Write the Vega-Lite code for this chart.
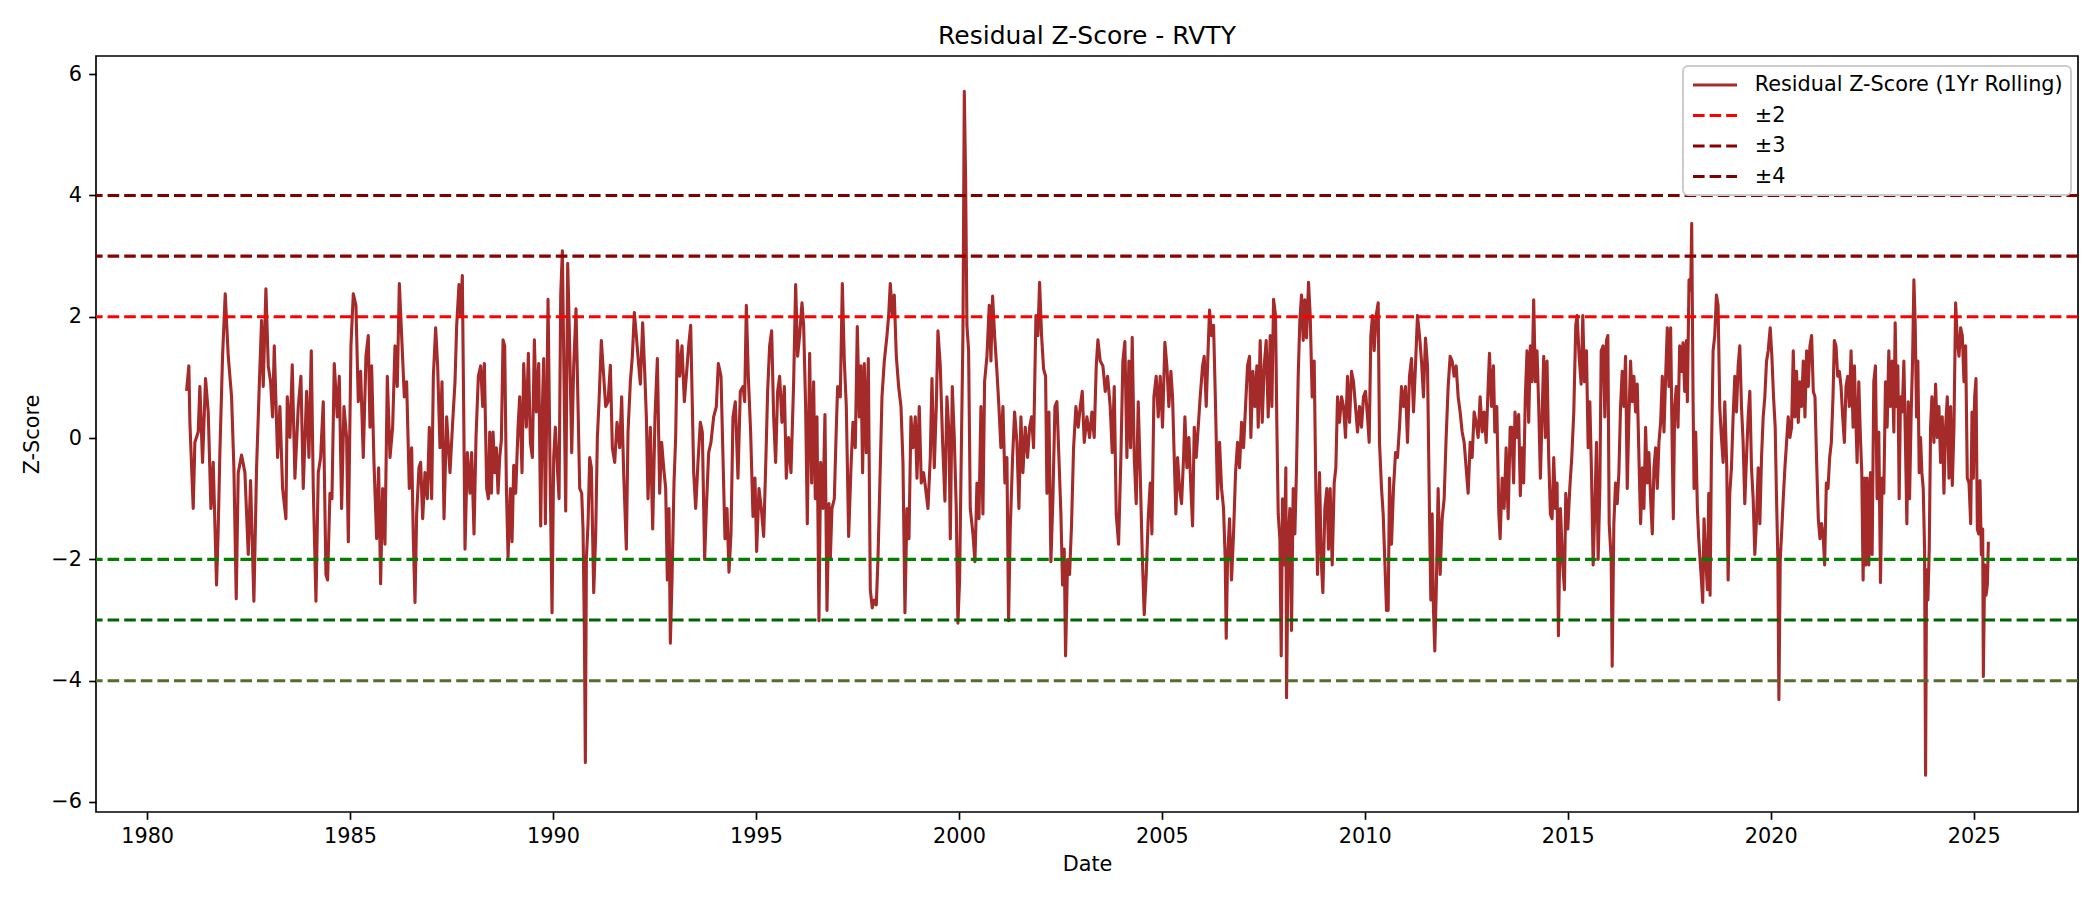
{
  "$schema": "https://vega.github.io/schema/vega-lite/v6.json",
  "description": "Residual Z-Score (1Yr Rolling) for RVTY with +/-2, 3, 4 threshold lines",
  "width": 1982,
  "height": 756,
  "autosize": {"type": "none"},
  "padding": {"left": 96, "top": 56, "right": 22, "bottom": 88},
  "background": "white",
  "title": {
    "text": "Residual Z-Score - RVTY",
    "font": "DejaVu Sans",
    "fontSize": 25,
    "fontWeight": "normal",
    "color": "black",
    "anchor": "middle",
    "frame": "group",
    "baseline": "bottom",
    "offset": -18
  },
  "datasets": {
    "zscore": [
      {"year": 1980.971, "zscore": 0.78}, {"year": 1981.028, "zscore": 1.19}, {"year": 1981.053, "zscore": 0.26}, {"year": 1981.135, "zscore": -1.16},
      {"year": 1981.176, "zscore": -0.07}, {"year": 1981.258, "zscore": 0.1}, {"year": 1981.299, "zscore": 0.85}, {"year": 1981.365, "zscore": -0.4},
      {"year": 1981.439, "zscore": 0.98}, {"year": 1981.505, "zscore": 0.43}, {"year": 1981.571, "zscore": -1.16}, {"year": 1981.628, "zscore": -0.4},
      {"year": 1981.71, "zscore": -2.42}, {"year": 1981.751, "zscore": -1.5}, {"year": 1981.792, "zscore": -0.24}, {"year": 1981.858, "zscore": 1.35},
      {"year": 1981.924, "zscore": 2.38}, {"year": 1981.998, "zscore": 1.35}, {"year": 1982.08, "zscore": 0.68}, {"year": 1982.137, "zscore": -0.49},
      {"year": 1982.195, "zscore": -2.65}, {"year": 1982.244, "zscore": -0.57}, {"year": 1982.326, "zscore": -0.28}, {"year": 1982.409, "zscore": -0.57},
      {"year": 1982.491, "zscore": -1.92}, {"year": 1982.548, "zscore": -0.7}, {"year": 1982.63, "zscore": -2.69}, {"year": 1982.696, "zscore": -0.49},
      {"year": 1982.762, "zscore": 0.85}, {"year": 1982.819, "zscore": 1.94}, {"year": 1982.86, "zscore": 0.85}, {"year": 1982.926, "zscore": 2.46},
      {"year": 1982.984, "zscore": 1.19}, {"year": 1983.041, "zscore": 0.93}, {"year": 1983.09, "zscore": 0.35}, {"year": 1983.132, "zscore": 1.52},
      {"year": 1983.214, "zscore": -0.32}, {"year": 1983.271, "zscore": 0.52}, {"year": 1983.337, "zscore": -0.83}, {"year": 1983.419, "zscore": -1.33},
      {"year": 1983.452, "zscore": 0.68}, {"year": 1983.518, "zscore": 0.01}, {"year": 1983.575, "zscore": 1.21}, {"year": 1983.641, "zscore": -0.66},
      {"year": 1983.723, "zscore": 0.52}, {"year": 1983.789, "zscore": 1.02}, {"year": 1983.846, "zscore": -0.83}, {"year": 1983.929, "zscore": 0.77},
      {"year": 1983.986, "zscore": -0.32}, {"year": 1984.044, "zscore": 1.44}, {"year": 1984.093, "zscore": -0.83}, {"year": 1984.159, "zscore": -2.69},
      {"year": 1984.216, "zscore": -0.57}, {"year": 1984.274, "zscore": -0.32}, {"year": 1984.339, "zscore": 0.6}, {"year": 1984.405, "zscore": -2.25},
      {"year": 1984.446, "zscore": -2.34}, {"year": 1984.504, "zscore": -0.91}, {"year": 1984.553, "zscore": -1.0}, {"year": 1984.61, "zscore": 1.23},
      {"year": 1984.684, "zscore": 0.35}, {"year": 1984.734, "zscore": 1.02}, {"year": 1984.791, "zscore": -1.16}, {"year": 1984.849, "zscore": 0.52},
      {"year": 1984.914, "zscore": 0.01}, {"year": 1984.956, "zscore": -1.71}, {"year": 1985.021, "zscore": 1.52}, {"year": 1985.079, "zscore": 2.38},
      {"year": 1985.144, "zscore": 2.19}, {"year": 1985.202, "zscore": 0.6}, {"year": 1985.26, "zscore": 1.1}, {"year": 1985.325, "zscore": -0.32},
      {"year": 1985.391, "zscore": 1.35}, {"year": 1985.448, "zscore": 1.69}, {"year": 1985.49, "zscore": 0.18}, {"year": 1985.531, "zscore": 1.19},
      {"year": 1985.588, "zscore": -0.4}, {"year": 1985.654, "zscore": -1.66}, {"year": 1985.703, "zscore": -0.49}, {"year": 1985.752, "zscore": -2.4},
      {"year": 1985.802, "zscore": -0.83}, {"year": 1985.859, "zscore": -1.75}, {"year": 1985.917, "zscore": 1.02}, {"year": 1985.983, "zscore": -0.32},
      {"year": 1986.048, "zscore": 0.18}, {"year": 1986.106, "zscore": 1.52}, {"year": 1986.163, "zscore": 0.85}, {"year": 1986.213, "zscore": 2.55},
      {"year": 1986.27, "zscore": 1.69}, {"year": 1986.336, "zscore": 0.68}, {"year": 1986.393, "zscore": 0.93}, {"year": 1986.459, "zscore": -0.83},
      {"year": 1986.517, "zscore": -0.16}, {"year": 1986.558, "zscore": -1.66}, {"year": 1986.599, "zscore": -2.71}, {"year": 1986.64, "zscore": -1.25},
      {"year": 1986.697, "zscore": -0.49}, {"year": 1986.738, "zscore": -0.4}, {"year": 1986.788, "zscore": -1.33}, {"year": 1986.845, "zscore": -0.57},
      {"year": 1986.903, "zscore": -1.0}, {"year": 1986.952, "zscore": 0.18}, {"year": 1987.01, "zscore": -1.0}, {"year": 1987.051, "zscore": 1.02},
      {"year": 1987.108, "zscore": 1.82}, {"year": 1987.157, "zscore": 1.19}, {"year": 1987.215, "zscore": -0.16}, {"year": 1987.264, "zscore": 0.93},
      {"year": 1987.314, "zscore": -1.33}, {"year": 1987.379, "zscore": 0.35}, {"year": 1987.461, "zscore": -0.57}, {"year": 1987.527, "zscore": 0.26},
      {"year": 1987.585, "zscore": 0.93}, {"year": 1987.626, "zscore": 1.86}, {"year": 1987.683, "zscore": 2.53}, {"year": 1987.724, "zscore": 2.02},
      {"year": 1987.765, "zscore": 2.68}, {"year": 1987.798, "zscore": 0.52}, {"year": 1987.831, "zscore": -1.83}, {"year": 1987.889, "zscore": -0.24},
      {"year": 1987.954, "zscore": -0.91}, {"year": 1987.995, "zscore": -0.24}, {"year": 1988.053, "zscore": -1.58}, {"year": 1988.102, "zscore": 0.01},
      {"year": 1988.16, "zscore": 1.02}, {"year": 1988.217, "zscore": 1.19}, {"year": 1988.267, "zscore": 0.52}, {"year": 1988.308, "zscore": 1.23},
      {"year": 1988.365, "zscore": -0.83}, {"year": 1988.406, "zscore": -1.0},
      {"year": 1988.44, "zscore": 0.1}, {"year": 1988.481, "zscore": -0.91}, {"year": 1988.522, "zscore": 0.1}, {"year": 1988.563, "zscore": -0.57},
      {"year": 1988.604, "zscore": -0.16}, {"year": 1988.645, "zscore": -0.91}, {"year": 1988.686, "zscore": -0.32}, {"year": 1988.727, "zscore": -0.03},
      {"year": 1988.768, "zscore": 1.62}, {"year": 1988.809, "zscore": 1.52}, {"year": 1988.851, "zscore": -0.83}, {"year": 1988.892, "zscore": -1.96},
      {"year": 1988.949, "zscore": -0.83}, {"year": 1988.99, "zscore": -1.71}, {"year": 1989.031, "zscore": -0.45}, {"year": 1989.08, "zscore": -0.91},
      {"year": 1989.138, "zscore": 0.18}, {"year": 1989.179, "zscore": 0.68}, {"year": 1989.236, "zscore": -0.57}, {"year": 1989.277, "zscore": 1.23},
      {"year": 1989.343, "zscore": 0.18}, {"year": 1989.392, "zscore": 1.4}, {"year": 1989.442, "zscore": -0.07}, {"year": 1989.491, "zscore": -0.32},
      {"year": 1989.54, "zscore": 1.62}, {"year": 1989.589, "zscore": 0.43}, {"year": 1989.647, "zscore": 1.23}, {"year": 1989.696, "zscore": -1.45},
      {"year": 1989.737, "zscore": 0.52}, {"year": 1989.77, "zscore": 1.31}, {"year": 1989.811, "zscore": -1.41}, {"year": 1989.877, "zscore": 2.29},
      {"year": 1989.926, "zscore": -0.49}, {"year": 1989.975, "zscore": -2.88}, {"year": 1990.016, "zscore": -0.32}, {"year": 1990.057, "zscore": 0.18},
      {"year": 1990.107, "zscore": -0.49}, {"year": 1990.148, "zscore": -1.0}, {"year": 1990.189, "zscore": 2.36}, {"year": 1990.23, "zscore": 3.09},
      {"year": 1990.271, "zscore": 0.93}, {"year": 1990.312, "zscore": -1.2}, {"year": 1990.361, "zscore": 2.88}, {"year": 1990.41, "zscore": 1.52},
      {"year": 1990.46, "zscore": -0.24}, {"year": 1990.509, "zscore": 1.19}, {"year": 1990.566, "zscore": 2.13}, {"year": 1990.616, "zscore": 0.52},
      {"year": 1990.657, "zscore": -0.83}, {"year": 1990.706, "zscore": -0.91}, {"year": 1990.739, "zscore": -1.5}, {"year": 1990.772, "zscore": -3.17},
      {"year": 1990.796, "zscore": -5.35}, {"year": 1990.821, "zscore": -2.0}, {"year": 1990.862, "zscore": -1.41}, {"year": 1990.903, "zscore": -0.32},
      {"year": 1990.944, "zscore": -0.49}, {"year": 1991.002, "zscore": -2.55}, {"year": 1991.051, "zscore": -1.58}, {"year": 1991.092, "zscore": 0.01},
      {"year": 1991.133, "zscore": 0.6}, {"year": 1991.19, "zscore": 1.61}, {"year": 1991.248, "zscore": 1.02}, {"year": 1991.297, "zscore": 0.52},
      {"year": 1991.355, "zscore": 0.6}, {"year": 1991.412, "zscore": 1.2}, {"year": 1991.461, "zscore": -0.16}, {"year": 1991.519, "zscore": -0.4},
      {"year": 1991.576, "zscore": 0.26}, {"year": 1991.642, "zscore": -0.16}, {"year": 1991.691, "zscore": 0.68}, {"year": 1991.74, "zscore": -0.57},
      {"year": 1991.806, "zscore": -1.83}, {"year": 1991.847, "zscore": 0.1}, {"year": 1991.905, "zscore": 0.93}, {"year": 1991.954, "zscore": 1.35},
      {"year": 1992.003, "zscore": 2.07}, {"year": 1992.052, "zscore": 1.69}, {"year": 1992.102, "zscore": 1.27}, {"year": 1992.151, "zscore": 0.89},
      {"year": 1992.208, "zscore": 1.9}, {"year": 1992.258, "zscore": 1.1}, {"year": 1992.299, "zscore": 0.35}, {"year": 1992.34, "zscore": -1.0},
      {"year": 1992.397, "zscore": 0.18}, {"year": 1992.455, "zscore": -1.5}, {"year": 1992.512, "zscore": 0.35}, {"year": 1992.57, "zscore": 1.31},
      {"year": 1992.627, "zscore": -0.91}, {"year": 1992.676, "zscore": -0.07}, {"year": 1992.726, "zscore": -0.49}, {"year": 1992.775, "zscore": -0.83},
      {"year": 1992.816, "zscore": -2.34}, {"year": 1992.857, "zscore": -1.16}, {"year": 1992.89, "zscore": -3.38}, {"year": 1992.931, "zscore": -2.34},
      {"year": 1992.98, "zscore": -0.74}, {"year": 1993.021, "zscore": 0.01}, {"year": 1993.062, "zscore": 1.61}, {"year": 1993.12, "zscore": 1.02},
      {"year": 1993.177, "zscore": 1.52}, {"year": 1993.235, "zscore": 0.6}, {"year": 1993.284, "zscore": 1.02}, {"year": 1993.341, "zscore": 1.52},
      {"year": 1993.391, "zscore": 1.86}, {"year": 1993.432, "zscore": 0.52}, {"year": 1993.465, "zscore": -0.57}, {"year": 1993.514, "zscore": -1.16},
      {"year": 1993.571, "zscore": -0.4}, {"year": 1993.629, "zscore": 0.26}, {"year": 1993.678, "zscore": 0.1}, {"year": 1993.735, "zscore": -2.0},
      {"year": 1993.777, "zscore": -1.16}, {"year": 1993.834, "zscore": -0.24}, {"year": 1993.891, "zscore": -0.07}, {"year": 1993.957, "zscore": 0.35},
      {"year": 1994.023, "zscore": 0.52}, {"year": 1994.072, "zscore": 1.23}, {"year": 1994.138, "zscore": 1.02}, {"year": 1994.187, "zscore": -0.32},
      {"year": 1994.236, "zscore": -1.66}, {"year": 1994.286, "zscore": -1.16}, {"year": 1994.335, "zscore": -2.21}, {"year": 1994.384, "zscore": -1.58},
      {"year": 1994.433, "zscore": 0.35}, {"year": 1994.491, "zscore": 0.6}, {"year": 1994.556, "zscore": -0.66}, {"year": 1994.614, "zscore": 0.77},
      {"year": 1994.68, "zscore": 0.85}, {"year": 1994.721, "zscore": 0.6}, {"year": 1994.762, "zscore": 2.19}, {"year": 1994.811, "zscore": 1.02},
      {"year": 1994.868, "zscore": 0.1}, {"year": 1994.926, "zscore": -1.29}, {"year": 1994.975, "zscore": -0.66}, {"year": 1995.016, "zscore": -1.87},
      {"year": 1995.074, "zscore": -0.83}, {"year": 1995.131, "zscore": -1.16}, {"year": 1995.189, "zscore": -1.62}, {"year": 1995.238, "zscore": -0.49},
      {"year": 1995.287, "zscore": 0.77}, {"year": 1995.336, "zscore": 1.52}, {"year": 1995.386, "zscore": 1.77}, {"year": 1995.435, "zscore": 0.35},
      {"year": 1995.484, "zscore": -0.4}, {"year": 1995.533, "zscore": 0.77}, {"year": 1995.583, "zscore": 1.02}, {"year": 1995.64, "zscore": 0.26},
      {"year": 1995.698, "zscore": 0.85}, {"year": 1995.747, "zscore": -0.66}, {"year": 1995.804, "zscore": 0.01}, {"year": 1995.862, "zscore": -0.57},
      {"year": 1995.928, "zscore": 0.93}, {"year": 1995.977, "zscore": 2.53}, {"year": 1996.026, "zscore": 1.35}, {"year": 1996.075, "zscore": 1.69},
      {"year": 1996.133, "zscore": 2.23}, {"year": 1996.174, "zscore": 1.86}, {"year": 1996.223, "zscore": 0.52}, {"year": 1996.264, "zscore": -1.41},
      {"year": 1996.322, "zscore": 1.4}, {"year": 1996.371, "zscore": -0.74}, {"year": 1996.42, "zscore": 0.93}, {"year": 1996.461, "zscore": -1.0},
      {"year": 1996.502, "zscore": 0.35}, {"year": 1996.551, "zscore": -3.01}, {"year": 1996.593, "zscore": -0.4}, {"year": 1996.65, "zscore": -1.16},
      {"year": 1996.699, "zscore": 0.39}, {"year": 1996.749, "zscore": -2.84}, {"year": 1996.798, "zscore": -1.08},
      {"year": 1996.831, "zscore": -2.0}, {"year": 1996.872, "zscore": -1.16}, {"year": 1996.93, "zscore": -1.0}, {"year": 1996.979, "zscore": 0.18},
      {"year": 1997.012, "zscore": 0.85}, {"year": 1997.077, "zscore": 0.68}, {"year": 1997.127, "zscore": 2.55}, {"year": 1997.176, "zscore": 1.27},
      {"year": 1997.225, "zscore": 0.52}, {"year": 1997.283, "zscore": -1.62}, {"year": 1997.34, "zscore": -0.49}, {"year": 1997.389, "zscore": 0.26},
      {"year": 1997.447, "zscore": -0.16}, {"year": 1997.496, "zscore": 1.84}, {"year": 1997.545, "zscore": 0.35}, {"year": 1997.586, "zscore": 1.19},
      {"year": 1997.627, "zscore": -0.57}, {"year": 1997.668, "zscore": 1.23}, {"year": 1997.718, "zscore": -0.24}, {"year": 1997.767, "zscore": 1.31},
      {"year": 1997.816, "zscore": -2.5}, {"year": 1997.865, "zscore": -2.8}, {"year": 1997.915, "zscore": -2.67}, {"year": 1997.964, "zscore": -2.75},
      {"year": 1998.005, "zscore": -2.0}, {"year": 1998.046, "zscore": -0.91}, {"year": 1998.104, "zscore": 0.68}, {"year": 1998.161, "zscore": 1.27},
      {"year": 1998.227, "zscore": 1.69}, {"year": 1998.268, "zscore": 2.02}, {"year": 1998.309, "zscore": 2.55}, {"year": 1998.358, "zscore": 2.02},
      {"year": 1998.407, "zscore": 2.36}, {"year": 1998.457, "zscore": 1.35}, {"year": 1998.514, "zscore": 0.85}, {"year": 1998.572, "zscore": 0.52},
      {"year": 1998.621, "zscore": -0.4}, {"year": 1998.67, "zscore": -2.88}, {"year": 1998.719, "zscore": -1.16}, {"year": 1998.769, "zscore": -1.66},
      {"year": 1998.818, "zscore": 0.35}, {"year": 1998.867, "zscore": -0.16}, {"year": 1998.925, "zscore": 0.35}, {"year": 1998.966, "zscore": -0.66},
      {"year": 1999.023, "zscore": 0.52}, {"year": 1999.072, "zscore": -0.74}, {"year": 1999.13, "zscore": -0.57}, {"year": 1999.179, "zscore": -0.83},
      {"year": 1999.237, "zscore": -1.16}, {"year": 1999.294, "zscore": -0.32}, {"year": 1999.335, "zscore": 0.98}, {"year": 1999.393, "zscore": -0.49},
      {"year": 1999.442, "zscore": 0.52}, {"year": 1999.483, "zscore": 1.77}, {"year": 1999.54, "zscore": 1.19}, {"year": 1999.598, "zscore": -0.07},
      {"year": 1999.655, "zscore": -1.04}, {"year": 1999.704, "zscore": 0.68}, {"year": 1999.754, "zscore": 0.1}, {"year": 1999.787, "zscore": -1.66},
      {"year": 1999.836, "zscore": 0.85}, {"year": 1999.885, "zscore": 0.01}, {"year": 1999.934, "zscore": -1.16}, {"year": 1999.975, "zscore": -3.05},
      {"year": 2000.016, "zscore": -2.34}, {"year": 2000.058, "zscore": -0.24}, {"year": 2000.099, "zscore": 1.73}, {"year": 2000.132, "zscore": 5.72},
      {"year": 2000.164, "zscore": 4.29}, {"year": 2000.197, "zscore": 1.86}, {"year": 2000.238, "zscore": 1.44}, {"year": 2000.279, "zscore": -1.16},
      {"year": 2000.345, "zscore": -1.58}, {"year": 2000.394, "zscore": -2.04}, {"year": 2000.444, "zscore": -0.74}, {"year": 2000.493, "zscore": -1.33},
      {"year": 2000.542, "zscore": 0.52}, {"year": 2000.591, "zscore": -1.25}, {"year": 2000.632, "zscore": 0.93}, {"year": 2000.69, "zscore": 1.35},
      {"year": 2000.747, "zscore": 2.19}, {"year": 2000.788, "zscore": 1.27}, {"year": 2000.829, "zscore": 2.34}, {"year": 2000.879, "zscore": 1.69},
      {"year": 2000.936, "zscore": 1.1}, {"year": 2000.985, "zscore": 0.52}, {"year": 2001.034, "zscore": -0.16}, {"year": 2001.084, "zscore": 0.52},
      {"year": 2001.133, "zscore": -0.74}, {"year": 2001.182, "zscore": -0.32}, {"year": 2001.223, "zscore": -3.01}, {"year": 2001.264, "zscore": -1.5},
      {"year": 2001.322, "zscore": -0.32}, {"year": 2001.371, "zscore": 0.43}, {"year": 2001.429, "zscore": -0.07}, {"year": 2001.478, "zscore": -1.16},
      {"year": 2001.527, "zscore": 0.35}, {"year": 2001.576, "zscore": -0.57}, {"year": 2001.634, "zscore": 0.18}, {"year": 2001.691, "zscore": -0.32},
      {"year": 2001.741, "zscore": 0.18}, {"year": 2001.79, "zscore": 0.35}, {"year": 2001.839, "zscore": -0.16}, {"year": 2001.897, "zscore": 2.02},
      {"year": 2001.946, "zscore": 1.69}, {"year": 2001.987, "zscore": 2.57}, {"year": 2002.036, "zscore": 1.69}, {"year": 2002.085, "zscore": 1.14},
      {"year": 2002.135, "zscore": 1.02}, {"year": 2002.168, "zscore": -0.91}, {"year": 2002.217, "zscore": 0.43}, {"year": 2002.266, "zscore": -2.04},
      {"year": 2002.315, "zscore": -1.0}, {"year": 2002.365, "zscore": 0.52}, {"year": 2002.414, "zscore": 0.6}, {"year": 2002.463, "zscore": -0.32},
      {"year": 2002.512, "zscore": -1.25}, {"year": 2002.553, "zscore": -2.42}, {"year": 2002.594, "zscore": -1.83}, {"year": 2002.627, "zscore": -3.59},
      {"year": 2002.677, "zscore": -2.0}, {"year": 2002.726, "zscore": -2.25}, {"year": 2002.775, "zscore": -1.41}, {"year": 2002.824, "zscore": -0.16},
      {"year": 2002.882, "zscore": 0.52}, {"year": 2002.939, "zscore": 0.18}, {"year": 2002.989, "zscore": 0.52}, {"year": 2003.038, "zscore": 0.77},
      {"year": 2003.087, "zscore": -0.07}, {"year": 2003.153, "zscore": 0.35}, {"year": 2003.218, "zscore": 0.01}, {"year": 2003.276, "zscore": 0.43},
      {"year": 2003.333, "zscore": 0.01}, {"year": 2003.383, "zscore": 1.19}, {"year": 2003.424, "zscore": 1.62}, {"year": 2003.481, "zscore": 1.27},
      {"year": 2003.547, "zscore": 1.19}, {"year": 2003.604, "zscore": 0.77}, {"year": 2003.662, "zscore": 1.02}, {"year": 2003.727, "zscore": 0.52},
      {"year": 2003.777, "zscore": -0.24}, {"year": 2003.826, "zscore": 0.85}, {"year": 2003.875, "zscore": -1.25}, {"year": 2003.933, "zscore": -1.75},
      {"year": 2003.99, "zscore": -0.32}, {"year": 2004.039, "zscore": 1.27}, {"year": 2004.088, "zscore": 1.59}, {"year": 2004.138, "zscore": -0.32},
      {"year": 2004.187, "zscore": 1.27}, {"year": 2004.228, "zscore": -0.16}, {"year": 2004.269, "zscore": 1.66}, {"year": 2004.319, "zscore": -0.32},
      {"year": 2004.368, "zscore": -1.08}, {"year": 2004.417, "zscore": 0.6}, {"year": 2004.466, "zscore": -0.57}, {"year": 2004.516, "zscore": -1.92},
      {"year": 2004.565, "zscore": -2.91}, {"year": 2004.614, "zscore": -2.25}, {"year": 2004.663, "zscore": -1.33}, {"year": 2004.713, "zscore": -0.74},
      {"year": 2004.754, "zscore": -1.58}, {"year": 2004.803, "zscore": 0.68}, {"year": 2004.86, "zscore": 1.02}, {"year": 2004.91, "zscore": 0.35},
      {"year": 2004.959, "zscore": 1.02}, {"year": 2005.016, "zscore": 0.18}, {"year": 2005.074, "zscore": 1.58}, {"year": 2005.123, "zscore": 1.19},
      {"year": 2005.172, "zscore": 0.52},
      {"year": 2005.222, "zscore": 1.1}, {"year": 2005.263, "zscore": 0.68}, {"year": 2005.304, "zscore": -0.32}, {"year": 2005.345, "zscore": -1.25},
      {"year": 2005.386, "zscore": -0.32}, {"year": 2005.435, "zscore": -0.83}, {"year": 2005.485, "zscore": -1.08}, {"year": 2005.534, "zscore": -0.32},
      {"year": 2005.567, "zscore": 0.35}, {"year": 2005.616, "zscore": -0.49}, {"year": 2005.665, "zscore": 0.01}, {"year": 2005.715, "zscore": -0.83},
      {"year": 2005.756, "zscore": -1.45}, {"year": 2005.797, "zscore": 0.18}, {"year": 2005.846, "zscore": -0.32}, {"year": 2005.895, "zscore": 0.18},
      {"year": 2005.944, "zscore": 0.68}, {"year": 2006.002, "zscore": 1.19}, {"year": 2006.043, "zscore": 1.35}, {"year": 2006.092, "zscore": 0.52},
      {"year": 2006.142, "zscore": 1.52}, {"year": 2006.174, "zscore": 2.11}, {"year": 2006.224, "zscore": 1.69}, {"year": 2006.273, "zscore": 1.86},
      {"year": 2006.322, "zscore": 0.52}, {"year": 2006.371, "zscore": -1.0}, {"year": 2006.421, "zscore": -0.07}, {"year": 2006.47, "zscore": -0.83},
      {"year": 2006.519, "zscore": -1.16}, {"year": 2006.56, "zscore": -2.0}, {"year": 2006.585, "zscore": -3.3}, {"year": 2006.618, "zscore": -2.0},
      {"year": 2006.667, "zscore": -1.33}, {"year": 2006.716, "zscore": -2.34}, {"year": 2006.765, "zscore": -1.58}, {"year": 2006.815, "zscore": -0.57},
      {"year": 2006.864, "zscore": -0.07}, {"year": 2006.913, "zscore": -0.49}, {"year": 2006.963, "zscore": 0.26}, {"year": 2007.012, "zscore": -0.16},
      {"year": 2007.061, "zscore": 0.52}, {"year": 2007.11, "zscore": 1.19}, {"year": 2007.16, "zscore": 1.35}, {"year": 2007.192, "zscore": 0.01},
      {"year": 2007.242, "zscore": 1.1}, {"year": 2007.291, "zscore": 0.52}, {"year": 2007.34, "zscore": 1.19}, {"year": 2007.373, "zscore": 0.18},
      {"year": 2007.422, "zscore": 1.61}, {"year": 2007.472, "zscore": 0.26}, {"year": 2007.521, "zscore": 1.19}, {"year": 2007.57, "zscore": 1.61},
      {"year": 2007.619, "zscore": 0.35}, {"year": 2007.669, "zscore": 1.69}, {"year": 2007.71, "zscore": 0.52}, {"year": 2007.751, "zscore": 2.29},
      {"year": 2007.8, "zscore": 2.02}, {"year": 2007.833, "zscore": 0.18}, {"year": 2007.866, "zscore": -1.25}, {"year": 2007.907, "zscore": -1.66},
      {"year": 2007.94, "zscore": -3.59}, {"year": 2007.972, "zscore": -1.0}, {"year": 2008.013, "zscore": -2.09}, {"year": 2008.054, "zscore": -0.49},
      {"year": 2008.071, "zscore": -4.28}, {"year": 2008.112, "zscore": -1.66}, {"year": 2008.153, "zscore": -1.16}, {"year": 2008.194, "zscore": -3.17},
      {"year": 2008.235, "zscore": -0.83}, {"year": 2008.276, "zscore": -1.58}, {"year": 2008.317, "zscore": -0.49}, {"year": 2008.358, "zscore": 1.02},
      {"year": 2008.399, "zscore": 1.94}, {"year": 2008.44, "zscore": 2.36}, {"year": 2008.481, "zscore": 1.61}, {"year": 2008.522, "zscore": 2.28},
      {"year": 2008.563, "zscore": 1.65}, {"year": 2008.613, "zscore": 2.57}, {"year": 2008.654, "zscore": 2.02}, {"year": 2008.703, "zscore": 0.68},
      {"year": 2008.752, "zscore": 1.27}, {"year": 2008.793, "zscore": -0.83}, {"year": 2008.834, "zscore": -2.25}, {"year": 2008.884, "zscore": -0.57},
      {"year": 2008.925, "zscore": -2.0}, {"year": 2008.966, "zscore": -2.55}, {"year": 2009.015, "zscore": -1.16}, {"year": 2009.064, "zscore": -0.83},
      {"year": 2009.105, "zscore": -1.83}, {"year": 2009.146, "zscore": -0.83}, {"year": 2009.196, "zscore": -2.09}, {"year": 2009.245, "zscore": -0.74},
      {"year": 2009.286, "zscore": -0.49}, {"year": 2009.327, "zscore": 0.68}, {"year": 2009.376, "zscore": 0.26}, {"year": 2009.426, "zscore": 0.68},
      {"year": 2009.475, "zscore": 0.52}, {"year": 2009.524, "zscore": 0.01}, {"year": 2009.573, "zscore": 1.02}, {"year": 2009.623, "zscore": 0.26},
      {"year": 2009.672, "zscore": 1.1}, {"year": 2009.721, "zscore": 0.93}, {"year": 2009.77, "zscore": 0.52}, {"year": 2009.82, "zscore": 0.1},
      {"year": 2009.869, "zscore": 0.52}, {"year": 2009.918, "zscore": 0.18}, {"year": 2009.967, "zscore": 0.68}, {"year": 2010.017, "zscore": 0.77},
      {"year": 2010.066, "zscore": 0.35}, {"year": 2010.107, "zscore": -0.07}, {"year": 2010.148, "zscore": 1.69}, {"year": 2010.189, "zscore": 2.02},
      {"year": 2010.23, "zscore": 1.44}, {"year": 2010.279, "zscore": 2.02}, {"year": 2010.329, "zscore": 2.23}, {"year": 2010.361, "zscore": -0.07},
      {"year": 2010.411, "zscore": -0.83}, {"year": 2010.452, "zscore": -1.25}, {"year": 2010.493, "zscore": -2.04}, {"year": 2010.534, "zscore": -2.84},
      {"year": 2010.575, "zscore": -2.84}, {"year": 2010.608, "zscore": -0.66}, {"year": 2010.657, "zscore": -1.75}, {"year": 2010.706, "zscore": -0.83},
      {"year": 2010.756, "zscore": -0.24}, {"year": 2010.805, "zscore": -0.32}, {"year": 2010.854, "zscore": 0.18}, {"year": 2010.903, "zscore": 0.85},
      {"year": 2010.953, "zscore": 0.52}, {"year": 2011.002, "zscore": 0.85}, {"year": 2011.051, "zscore": -0.07}, {"year": 2011.1, "zscore": 1.02},
      {"year": 2011.15, "zscore": 1.31}, {"year": 2011.199, "zscore": 0.43}, {"year": 2011.248, "zscore": 1.19}, {"year": 2011.297, "zscore": 2.02},
      {"year": 2011.347, "zscore": 1.69}, {"year": 2011.396, "zscore": 1.27}, {"year": 2011.445, "zscore": 0.68}, {"year": 2011.494, "zscore": 1.65},
      {"year": 2011.544, "zscore": 1.19}, {"year": 2011.593, "zscore": -1.25}, {"year": 2011.626, "zscore": -2.67}, {"year": 2011.659, "zscore": -1.25},
      {"year": 2011.691, "zscore": -2.84}, {"year": 2011.724, "zscore": -3.51}, {"year": 2011.765, "zscore": -2.34}, {"year": 2011.806, "zscore": -0.83},
      {"year": 2011.856, "zscore": -2.25}, {"year": 2011.905, "zscore": -1.33}, {"year": 2011.954, "zscore": -1.0}, {"year": 2012.003, "zscore": 0.01},
      {"year": 2012.053, "zscore": 0.85}, {"year": 2012.102, "zscore": 1.35}, {"year": 2012.151, "zscore": 1.27}, {"year": 2012.2, "zscore": 1.02},
      {"year": 2012.25, "zscore": 1.19}, {"year": 2012.299, "zscore": 0.68}, {"year": 2012.348, "zscore": 0.43}, {"year": 2012.398, "zscore": 0.1},
      {"year": 2012.447, "zscore": -0.07}, {"year": 2012.496, "zscore": -0.49}, {"year": 2012.545, "zscore": -0.91}, {"year": 2012.595, "zscore": -0.07},
      {"year": 2012.644, "zscore": -0.32}, {"year": 2012.693, "zscore": 0.43}, {"year": 2012.742, "zscore": 0.26}, {"year": 2012.792, "zscore": 0.01},
      {"year": 2012.841, "zscore": 0.68}, {"year": 2012.89, "zscore": 0.1}, {"year": 2012.939, "zscore": 0.43}, {"year": 2012.989, "zscore": -0.07},
      {"year": 2013.038, "zscore": 0.85}, {"year": 2013.071, "zscore": 1.4}, {"year": 2013.12, "zscore": 0.52}, {"year": 2013.169, "zscore": 1.19},
      {"year": 2013.202, "zscore": 0.1}, {"year": 2013.251, "zscore": 0.52}, {"year": 2013.301, "zscore": -1.25}, {"year": 2013.333, "zscore": -1.66},
      {"year": 2013.383, "zscore": -0.66}, {"year": 2013.432, "zscore": -1.16}, {"year": 2013.481, "zscore": -0.16}, {"year": 2013.531, "zscore": -1.33},
      {"year": 2013.58, "zscore": 0.18},
      {"year": 2013.617, "zscore": 0.18}, {"year": 2013.666, "zscore": -0.74}, {"year": 2013.699, "zscore": 0.43}, {"year": 2013.749, "zscore": 0.01},
      {"year": 2013.79, "zscore": 0.39}, {"year": 2013.831, "zscore": -0.95}, {"year": 2013.872, "zscore": -0.16}, {"year": 2013.913, "zscore": -0.74},
      {"year": 2013.954, "zscore": 0.68}, {"year": 2013.996, "zscore": 1.44}, {"year": 2014.037, "zscore": 0.26}, {"year": 2014.078, "zscore": 1.52},
      {"year": 2014.119, "zscore": 0.93}, {"year": 2014.16, "zscore": 2.28}, {"year": 2014.201, "zscore": 0.93}, {"year": 2014.242, "zscore": 1.44},
      {"year": 2014.284, "zscore": 0.52}, {"year": 2014.325, "zscore": -0.66}, {"year": 2014.366, "zscore": 0.35}, {"year": 2014.407, "zscore": 1.35},
      {"year": 2014.448, "zscore": 0.01}, {"year": 2014.489, "zscore": 1.27}, {"year": 2014.53, "zscore": -0.32}, {"year": 2014.572, "zscore": -1.25},
      {"year": 2014.613, "zscore": -1.33}, {"year": 2014.654, "zscore": -0.32}, {"year": 2014.695, "zscore": -1.16}, {"year": 2014.736, "zscore": -0.74},
      {"year": 2014.769, "zscore": -3.26}, {"year": 2014.819, "zscore": -1.16}, {"year": 2014.868, "zscore": -2.0}, {"year": 2014.917, "zscore": -2.5},
      {"year": 2014.95, "zscore": -0.91}, {"year": 2015.0, "zscore": -1.5}, {"year": 2015.049, "zscore": -0.83}, {"year": 2015.098, "zscore": -0.32},
      {"year": 2015.148, "zscore": 0.43}, {"year": 2015.197, "zscore": 1.86}, {"year": 2015.23, "zscore": 2.02}, {"year": 2015.279, "zscore": 1.35},
      {"year": 2015.329, "zscore": 0.89}, {"year": 2015.37, "zscore": 2.02}, {"year": 2015.411, "zscore": 0.93}, {"year": 2015.46, "zscore": 1.44},
      {"year": 2015.502, "zscore": -0.16}, {"year": 2015.543, "zscore": 0.6}, {"year": 2015.584, "zscore": -0.57}, {"year": 2015.625, "zscore": -2.09},
      {"year": 2015.666, "zscore": -1.16}, {"year": 2015.707, "zscore": -0.07}, {"year": 2015.748, "zscore": -2.0}, {"year": 2015.79, "zscore": -0.83},
      {"year": 2015.823, "zscore": 1.44}, {"year": 2015.872, "zscore": 1.52}, {"year": 2015.913, "zscore": 0.35}, {"year": 2015.954, "zscore": 1.61},
      {"year": 2015.987, "zscore": 1.69}, {"year": 2016.02, "zscore": -1.41}, {"year": 2016.069, "zscore": -2.0}, {"year": 2016.094, "zscore": -3.76},
      {"year": 2016.135, "zscore": -1.41}, {"year": 2016.176, "zscore": -0.74}, {"year": 2016.218, "zscore": -1.08}, {"year": 2016.259, "zscore": -0.57},
      {"year": 2016.3, "zscore": 0.52}, {"year": 2016.341, "zscore": 1.1}, {"year": 2016.382, "zscore": 0.52}, {"year": 2016.423, "zscore": 1.35},
      {"year": 2016.465, "zscore": -0.83}, {"year": 2016.506, "zscore": 0.35}, {"year": 2016.547, "zscore": 1.27}, {"year": 2016.588, "zscore": 0.6},
      {"year": 2016.629, "zscore": 1.02}, {"year": 2016.67, "zscore": 0.43}, {"year": 2016.711, "zscore": 0.89}, {"year": 2016.753, "zscore": -0.32},
      {"year": 2016.794, "zscore": -1.41}, {"year": 2016.835, "zscore": -0.49}, {"year": 2016.876, "zscore": -1.16}, {"year": 2016.917, "zscore": 0.18},
      {"year": 2016.958, "zscore": -0.74}, {"year": 2016.999, "zscore": -0.24}, {"year": 2017.041, "zscore": -1.0}, {"year": 2017.082, "zscore": -1.58},
      {"year": 2017.123, "zscore": -0.49}, {"year": 2017.164, "zscore": -0.16}, {"year": 2017.205, "zscore": -0.83}, {"year": 2017.246, "zscore": -0.07},
      {"year": 2017.288, "zscore": 0.26}, {"year": 2017.329, "zscore": 1.02}, {"year": 2017.37, "zscore": 0.1}, {"year": 2017.411, "zscore": 1.02},
      {"year": 2017.452, "zscore": 1.82}, {"year": 2017.493, "zscore": 0.85}, {"year": 2017.534, "zscore": 1.82}, {"year": 2017.576, "zscore": -0.32},
      {"year": 2017.6, "zscore": -1.33}, {"year": 2017.633, "zscore": 0.52}, {"year": 2017.674, "zscore": 0.85}, {"year": 2017.715, "zscore": 0.18},
      {"year": 2017.757, "zscore": 1.52}, {"year": 2017.798, "zscore": 1.1}, {"year": 2017.839, "zscore": 1.57}, {"year": 2017.88, "zscore": 0.77},
      {"year": 2017.921, "zscore": 1.61}, {"year": 2017.946, "zscore": 0.6}, {"year": 2017.987, "zscore": 2.61}, {"year": 2018.028, "zscore": 2.44},
      {"year": 2018.053, "zscore": 3.54}, {"year": 2018.086, "zscore": 0.68}, {"year": 2018.111, "zscore": -0.83}, {"year": 2018.152, "zscore": 0.1},
      {"year": 2018.193, "zscore": -1.16}, {"year": 2018.226, "zscore": -1.66}, {"year": 2018.259, "zscore": -2.0}, {"year": 2018.3, "zscore": -2.42},
      {"year": 2018.324, "zscore": -2.71}, {"year": 2018.357, "zscore": -1.33}, {"year": 2018.399, "zscore": -2.0}, {"year": 2018.44, "zscore": -2.5},
      {"year": 2018.473, "zscore": -0.91}, {"year": 2018.506, "zscore": -2.59}, {"year": 2018.538, "zscore": -0.32}, {"year": 2018.58, "zscore": 1.44},
      {"year": 2018.621, "zscore": 1.69}, {"year": 2018.662, "zscore": 2.36}, {"year": 2018.703, "zscore": 2.19}, {"year": 2018.744, "zscore": 0.52},
      {"year": 2018.785, "zscore": 0.01}, {"year": 2018.827, "zscore": -0.4}, {"year": 2018.868, "zscore": 0.6}, {"year": 2018.917, "zscore": -0.49},
      {"year": 2018.95, "zscore": -2.34}, {"year": 2018.991, "zscore": -0.91}, {"year": 2019.032, "zscore": -0.49}, {"year": 2019.073, "zscore": 0.35},
      {"year": 2019.115, "zscore": 1.02}, {"year": 2019.156, "zscore": 0.43}, {"year": 2019.197, "zscore": 1.19}, {"year": 2019.238, "zscore": 1.52},
      {"year": 2019.279, "zscore": 0.52}, {"year": 2019.32, "zscore": -0.07}, {"year": 2019.361, "zscore": -1.08}, {"year": 2019.403, "zscore": -0.32},
      {"year": 2019.444, "zscore": 0.35}, {"year": 2019.485, "zscore": 0.77}, {"year": 2019.526, "zscore": -0.49}, {"year": 2019.567, "zscore": -1.0},
      {"year": 2019.608, "zscore": -1.92}, {"year": 2019.65, "zscore": -1.33}, {"year": 2019.691, "zscore": -0.49}, {"year": 2019.732, "zscore": -1.41},
      {"year": 2019.773, "zscore": -0.32}, {"year": 2019.814, "zscore": 0.35}, {"year": 2019.855, "zscore": 0.68}, {"year": 2019.896, "zscore": 1.27},
      {"year": 2019.938, "zscore": 1.44}, {"year": 2019.987, "zscore": 1.82}, {"year": 2020.028, "zscore": 1.35}, {"year": 2020.069, "zscore": 0.68},
      {"year": 2020.11, "zscore": 0.18}, {"year": 2020.143, "zscore": -1.0}, {"year": 2020.176, "zscore": -2.0}, {"year": 2020.201, "zscore": -4.31},
      {"year": 2020.234, "zscore": -2.0}, {"year": 2020.267, "zscore": -1.58}, {"year": 2020.308, "zscore": -1.0}, {"year": 2020.349, "zscore": -0.49},
      {"year": 2020.39, "zscore": -0.07}, {"year": 2020.431, "zscore": 0.35}, {"year": 2020.473, "zscore": 0.01}, {"year": 2020.514, "zscore": 0.18},
      {"year": 2020.555, "zscore": 1.44}, {"year": 2020.596, "zscore": 0.35}, {"year": 2020.637, "zscore": 1.1}, {"year": 2020.678, "zscore": 0.26},
      {"year": 2020.719, "zscore": 0.93}, {"year": 2020.761, "zscore": 0.52}, {"year": 2020.802, "zscore": 1.27}, {"year": 2020.843, "zscore": 0.35},
      {"year": 2020.884, "zscore": 1.44}, {"year": 2020.925, "zscore": 0.85}, {"year": 2020.966, "zscore": 1.52}, {"year": 2021.007, "zscore": 1.69},
      {"year": 2021.049, "zscore": 0.77}, {"year": 2021.09, "zscore": 0.68}, {"year": 2021.131, "zscore": -0.4}, {"year": 2021.172, "zscore": -1.33},
      {"year": 2021.213, "zscore": -1.66}, {"year": 2021.254, "zscore": -1.41}, {"year": 2021.296, "zscore": -1.66}, {"year": 2021.328, "zscore": -2.09},
      {"year": 2021.37, "zscore": -0.74}, {"year": 2021.411, "zscore": -0.83}, {"year": 2021.452, "zscore": -0.32}, {"year": 2021.493, "zscore": -0.07},
      {"year": 2021.534, "zscore": 0.68}, {"year": 2021.567, "zscore": 1.61}, {"year": 2021.608, "zscore": 1.52}, {"year": 2021.649, "zscore": 1.02},
      {"year": 2021.691, "zscore": 1.1}, {"year": 2021.732, "zscore": 0.85}, {"year": 2021.773, "zscore": 0.35}, {"year": 2021.814, "zscore": -0.07},
      {"year": 2021.855, "zscore": 0.85}, {"year": 2021.896, "zscore": 1.02}, {"year": 2021.937, "zscore": 0.52}, {"year": 2021.979, "zscore": 1.44},
      {"year": 2022.029, "zscore": 0.18}, {"year": 2022.062, "zscore": 1.19}, {"year": 2022.095, "zscore": 0.35}, {"year": 2022.128, "zscore": -0.4},
      {"year": 2022.169, "zscore": 0.93}, {"year": 2022.21, "zscore": 0.01}, {"year": 2022.243, "zscore": -0.57}, {"year": 2022.276, "zscore": -2.34},
      {"year": 2022.309, "zscore": -0.66}, {"year": 2022.341, "zscore": -2.09}, {"year": 2022.374, "zscore": -0.66}, {"year": 2022.416, "zscore": -2.09},
      {"year": 2022.457, "zscore": -0.57}, {"year": 2022.498, "zscore": -1.92}, {"year": 2022.539, "zscore": 0.93}, {"year": 2022.58, "zscore": 1.19},
      {"year": 2022.621, "zscore": -1.0}, {"year": 2022.662, "zscore": 0.1}, {"year": 2022.704, "zscore": -2.38}, {"year": 2022.745, "zscore": -0.66},
      {"year": 2022.786, "zscore": -0.91}, {"year": 2022.827, "zscore": 0.93}, {"year": 2022.868, "zscore": 0.18}, {"year": 2022.909, "zscore": 1.44},
      {"year": 2022.951, "zscore": 0.52}, {"year": 2022.992, "zscore": 1.27}, {"year": 2023.033, "zscore": 0.1}, {"year": 2023.066, "zscore": 1.9},
      {"year": 2023.099, "zscore": 0.52}, {"year": 2023.132, "zscore": 1.19}, {"year": 2023.164, "zscore": -1.0}, {"year": 2023.197, "zscore": 0.68},
      {"year": 2023.239, "zscore": 0.43}, {"year": 2023.28, "zscore": 1.27}, {"year": 2023.321, "zscore": -0.16}, {"year": 2023.354, "zscore": -1.41},
      {"year": 2023.387, "zscore": 0.6}, {"year": 2023.42, "zscore": -1.0}, {"year": 2023.461, "zscore": 0.43}, {"year": 2023.494, "zscore": 1.27},
      {"year": 2023.527, "zscore": 2.61}, {"year": 2023.56, "zscore": 1.86}, {"year": 2023.592, "zscore": 0.35}, {"year": 2023.625, "zscore": 1.27},
      {"year": 2023.658, "zscore": -0.57}, {"year": 2023.691, "zscore": 0.01}, {"year": 2023.724, "zscore": -0.57}, {"year": 2023.757, "zscore": -0.83},
      {"year": 2023.79, "zscore": -1.83}, {"year": 2023.815, "zscore": -5.56}, {"year": 2023.839, "zscore": -2.17}, {"year": 2023.872, "zscore": -2.67},
      {"year": 2023.905, "zscore": -1.83}, {"year": 2023.938, "zscore": 0.18}, {"year": 2023.971, "zscore": 0.68}, {"year": 2024.02, "zscore": -0.07},
      {"year": 2024.062, "zscore": 0.89}, {"year": 2024.103, "zscore": 0.01}, {"year": 2024.144, "zscore": 0.52}, {"year": 2024.185, "zscore": -0.4},
      {"year": 2024.226, "zscore": 0.35}, {"year": 2024.267, "zscore": -0.91}, {"year": 2024.308, "zscore": 0.18}, {"year": 2024.35, "zscore": 0.68},
      {"year": 2024.391, "zscore": -0.66}, {"year": 2024.432, "zscore": 0.52}, {"year": 2024.473, "zscore": -0.78}, {"year": 2024.514, "zscore": 0.18},
      {"year": 2024.555, "zscore": 2.23}, {"year": 2024.597, "zscore": 1.61}, {"year": 2024.638, "zscore": 1.35}, {"year": 2024.679, "zscore": 1.82},
      {"year": 2024.72, "zscore": 1.69}, {"year": 2024.761, "zscore": 0.93}, {"year": 2024.802, "zscore": 1.52}, {"year": 2024.843, "zscore": -0.66},
      {"year": 2024.885, "zscore": -0.74}, {"year": 2024.926, "zscore": -1.41}, {"year": 2024.959, "zscore": 0.43}, {"year": 2024.992, "zscore": -0.66},
      {"year": 2025.024, "zscore": 0.68}, {"year": 2025.057, "zscore": 0.98}, {"year": 2025.09, "zscore": -1.5}, {"year": 2025.123, "zscore": -1.58},
      {"year": 2025.156, "zscore": -0.7}, {"year": 2025.189, "zscore": -1.92}, {"year": 2025.222, "zscore": -1.5}, {"year": 2025.238, "zscore": -3.93},
      {"year": 2025.271, "zscore": -2.09}, {"year": 2025.304, "zscore": -2.59}, {"year": 2025.337, "zscore": -2.42}, {"year": 2025.362, "zscore": -1.71}
    ],
    "thresholds": [
      {"level": 2, "band": "±2"},
      {"level": -2, "band": "-2"},
      {"level": 3, "band": "±3"},
      {"level": -3, "band": "-3"},
      {"level": 4, "band": "±4"},
      {"level": -4, "band": "-4"}
    ]
  },
  "layer": [
    {
      "data": {"name": "zscore"},
      "mark": {"type": "line", "strokeWidth": 3.1, "strokeJoin": "round", "clip": true},
      "encoding": {
        "x": {
          "field": "year",
          "type": "quantitative",
          "title": "Date",
          "scale": {"domain": [1978.74, 2027.57], "nice": false, "zero": false},
          "axis": {"values": [1980, 1985, 1990, 1995, 2000, 2005, 2010, 2015, 2020, 2025], "format": "d", "labelFlush": false, "labelOverlap": false}
        },
        "y": {
          "field": "zscore",
          "type": "quantitative",
          "title": "Z-Score",
          "scale": {"domain": [-6.165, 6.3], "nice": false, "zero": false},
          "axis": {"values": [-6, -4, -2, 0, 2, 4, 6], "format": "d", "labelFlush": false, "labelOverlap": false}
        },
        "color": {
          "datum": "Residual Z-Score (1Yr Rolling)",
          "type": "nominal",
          "title": null,
          "scale": {
            "domain": ["Residual Z-Score (1Yr Rolling)", "±2", "±3", "±4", "-2", "-3", "-4"],
            "range": ["#a52a2a", "#ff0000", "#8b0000", "#800000", "#008000", "#006400", "#556b2f"]
          },
          "legend": {
            "title": null,
            "values": ["Residual Z-Score (1Yr Rolling)", "±2", "±3", "±4"],
            "orient": "none",
            "legendX": 1587,
            "legendY": 10,
            "direction": "vertical",
            "symbolType": "M-1,0H3.89",
            "symbolSize": 324,
            "symbolStrokeWidth": 3.1,
            "symbolFillColor": "transparent",
            "labelFont": "DejaVu Sans",
            "labelFontSize": 20.8,
            "labelColor": "black",
            "labelOffset": 41.7,
            "labelLimit": 500,
            "rowPadding": 9.5,
            "padding": 8,
            "fillColor": "rgba(255,255,255,0.8)",
            "strokeColor": "#cccccc",
            "cornerRadius": 5,
            "encode": {
              "legend": {"update": {"strokeWidth": {"value": 2}}},
              "symbols": {"update": {"strokeDash": {"signal": "datum.value === 'Residual Z-Score (1Yr Rolling)' ? [1, 0] : [11.6, 5]"}}}
            }
          }
        }
      }
    },
    {
      "data": {"name": "thresholds"},
      "mark": {"type": "rule", "strokeWidth": 3.1, "strokeDash": [11.6, 5]},
      "encoding": {
        "y": {"field": "level", "type": "quantitative"},
        "color": {"field": "band", "type": "nominal", "title": null}
      }
    }
  ],
  "config": {
    "font": "DejaVu Sans",
    "view": {"stroke": "black", "strokeWidth": 1.67},
    "axis": {
      "domain": false,
      "grid": false,
      "tickColor": "black",
      "tickWidth": 1.67,
      "tickSize": 7.3,
      "labelPadding": 7.3,
      "labelFont": "DejaVu Sans",
      "labelFontSize": 20.8,
      "labelColor": "black",
      "titleFont": "DejaVu Sans",
      "titleFontSize": 20.8,
      "titleFontWeight": "normal",
      "titleColor": "black",
      "titlePadding": 8
    }
  }
}
